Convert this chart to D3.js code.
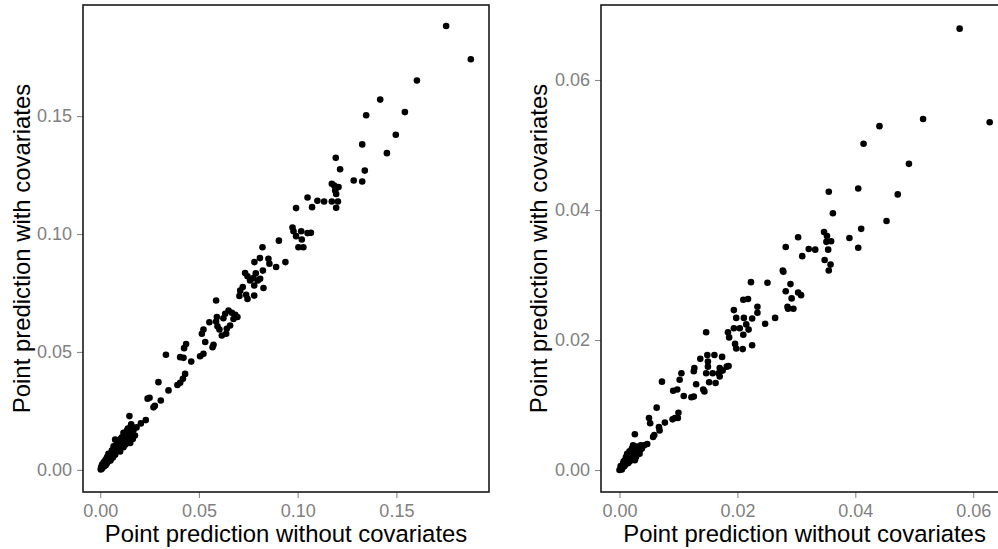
<!DOCTYPE html>
<html>
<head>
<meta charset="utf-8">
<script src="https://cdn.jsdelivr.net/npm/d3@7"></script>
<style>
  html, body { margin: 0; padding: 0; background: #fff; }
  svg { display: block; }
</style>
</head>
<body>
<div id="chart"></div>
<script>
// puntos panel izquierdo [sin covariables, con covariables]
const leftPoints = [
  [0.1752,0.1882],[0.1877,0.1741],[0.1604,0.1651],[0.1418,0.1570],[0.1347,0.1504],[0.1543,0.1517],
  [0.1497,0.1421],[0.1327,0.1380],[0.1452,0.1343],[0.1193,0.1323],[0.1215,0.1275],[0.1340,0.1269],
  [0.1284,0.1227],[0.1327,0.1223],[0.1173,0.1213],[0.1185,0.1206],[0.1207,0.1199],[0.1190,0.1185],
  [0.1195,0.1170],[0.1173,0.1138],[0.1204,0.1138],[0.1195,0.1111],[0.1050,0.1155],[0.1100,0.1141],
  [0.1134,0.1138],[0.1073,0.1114],[0.0992,0.1110],[0.0974,0.1028],[0.0979,0.1012],[0.0992,0.0991],
  [0.1018,0.1012],[0.1050,0.1004],[0.1067,0.1005],[0.1021,0.0977],[0.1004,0.0944],[0.1029,0.0944],
  [0.0905,0.0972],[0.0822,0.0944],[0.0938,0.0881],[0.0809,0.0898],[0.0781,0.0881],[0.0852,0.0895],
  [0.0857,0.0874],[0.0891,0.0860],
  [0.0824,0.0845],[0.0734,0.0835],[0.0746,0.0821],[0.0788,0.0834],[0.0759,0.0803],[0.0776,0.0813],
  [0.0798,0.0803],[0.0810,0.0810],[0.0722,0.0775],[0.0709,0.0760],[0.0780,0.0782],[0.0827,0.0771],
  [0.0739,0.0742],[0.0746,0.0725],[0.0705,0.0737],[0.0780,0.0739],[0.0587,0.0718],[0.0650,0.0676],
  [0.0667,0.0666],[0.0684,0.0657],[0.0695,0.0648],[0.0675,0.0640],[0.0633,0.0662],[0.0624,0.0643],
  [0.0591,0.0648],[0.0587,0.0629],[0.0594,0.0609],[0.0604,0.0595],[0.0616,0.0570],[0.0553,0.0626],
  [0.0658,0.0612],[0.0641,0.0598],[0.0638,0.0577],[0.0523,0.0595],[0.0515,0.0577],[0.0574,0.0530],
  [0.0569,0.0520],[0.0532,0.0542],[0.0435,0.0534],[0.0425,0.0516],[0.0523,0.0492],[0.0506,0.0482],
  [0.0405,0.0478],[0.0422,0.0475],[0.0333,0.0488],[0.0461,0.0459],
  [0.0430,0.0407],[0.0419,0.0386],[0.0405,0.0369],[0.0391,0.0360],[0.0295,0.0372],[0.0346,0.0337],
  [0.0250,0.0306],[0.0240,0.0302],[0.0307,0.0294],[0.0277,0.0272],[0.0270,0.0265],[0.0148,0.0228],
  [0.0231,0.0211],[0.0206,0.0197],[0.0157,0.0193],[0.0156,0.0186],[0.0184,0.0180],[0.0169,0.0169],
  [0.0135,0.0166],[0.0118,0.0157],[0.0148,0.0157],[0.0176,0.0146],[0.0110,0.0138],[0.0135,0.0134],
  [0.0165,0.0131],[0.0076,0.0128],[0.0101,0.0124],[0.0127,0.0117],[0.0152,0.0114],[0.0093,0.0106],
  [0.0068,0.0100],[0.0118,0.0096],[0.0085,0.0089],[0.0059,0.0082],[0.0101,0.0078],[0.0042,0.0068],
  [0.0076,0.0064],[0.0051,0.0054],
  [0.0003,0.0002],[0.0008,0.0005],[0.0005,0.0012],[0.0012,0.0010],[0.0015,0.0018],[0.0010,0.0022],
  [0.0020,0.0015],[0.0022,0.0026],[0.0028,0.0020],[0.0018,0.0032],[0.0030,0.0033],[0.0034,0.0028],
  [0.0026,0.0040],[0.0038,0.0042],[0.0042,0.0036],[0.0032,0.0048],[0.0046,0.0050],[0.0055,0.0047],
  [0.0062,0.0060],[0.0058,0.0070],[0.0068,0.0072],[0.0072,0.0066],[0.0065,0.0085],[0.0080,0.0078],
  [0.0088,0.0080],[0.0095,0.0092],[0.0107,0.0106],[0.0112,0.0118],[0.0121,0.0130],[0.0140,0.0147],
  [0.0143,0.0120],[0.0129,0.0144],
  [0.0048,0.0062],[0.0036,0.0055],[0.0052,0.0040],[0.0064,0.0052],[0.0078,0.0090],[0.0090,0.0115],
  [0.0084,0.0102],[0.0104,0.0132],[0.0113,0.0100],[0.0128,0.0108],[0.0160,0.0140],[0.0140,0.0175]
];

// puntos panel derecho
const rightPoints = [
  [0.0577,0.0679],[0.0515,0.0540],[0.0628,0.0535],[0.0441,0.0529],[0.0414,0.0502],[0.0491,0.0471],
  [0.0355,0.0428],[0.0405,0.0433],[0.0472,0.0424],[0.0362,0.0395],[0.0453,0.0383],[0.0410,0.0371],
  [0.0347,0.0366],[0.0352,0.0360],[0.0351,0.0351],[0.0359,0.0352],[0.0390,0.0357],[0.0303,0.0358],
  [0.0282,0.0343],[0.0321,0.0340],[0.0332,0.0339],[0.0354,0.0339],[0.0405,0.0342],[0.0310,0.0329],
  [0.0348,0.0323],[0.0358,0.0316],[0.0355,0.0307],[0.0277,0.0307],[0.0278,0.0305],[0.0223,0.0289],
  [0.0251,0.0288],[0.0290,0.0286],[0.0282,0.0275],[0.0303,0.0273],[0.0308,0.0269],[0.0292,0.0264],
  [0.0285,0.0251],[0.0286,0.0248],[0.0295,0.0248],[0.0210,0.0262],[0.0218,0.0263],[0.0234,0.0251],
  [0.0234,0.0242],[0.0194,0.0246],[0.0198,0.0234],[0.0211,0.0234],[0.0225,0.0233],[0.0264,0.0234],
  [0.0247,0.0225],[0.0215,0.0224],[0.0219,0.0216],[0.0184,0.0212],[0.0186,0.0204],[0.0147,0.0212],
  [0.0194,0.0218],[0.0204,0.0218],[0.0210,0.0208],[0.0196,0.0194],[0.0198,0.0187],[0.0209,0.0186],
  [0.0225,0.0192],[0.0137,0.0171],[0.0149,0.0177],[0.0161,0.0177],[0.0174,0.0174],[0.0150,0.0167],
  [0.0150,0.0159],[0.0182,0.0159],[0.0185,0.0160],[0.0170,0.0157],[0.0127,0.0157],[0.0126,0.0152],
  [0.0147,0.0149],[0.0158,0.0149],[0.0168,0.0149],[0.0175,0.0153],[0.0170,0.0144],[0.0152,0.0135],
  [0.0163,0.0134],[0.0130,0.0132],[0.0105,0.0149],[0.0102,0.0139],[0.0072,0.0136],[0.0091,0.0122],
  [0.0098,0.0124],[0.0142,0.0124],[0.0144,0.0121],[0.0109,0.0114],[0.0122,0.0112],[0.0126,0.0113],
  [0.0063,0.0096],[0.0100,0.0088],[0.0094,0.0080],[0.0099,0.0080],[0.0090,0.0078],[0.0077,0.0073],
  [0.0050,0.0080],[0.0052,0.0072],[0.0067,0.0066],[0.0068,0.0061],[0.0059,0.0054],[0.0057,0.0051],
  [0.0026,0.0055],[0.0047,0.0040],[0.0042,0.0038],
  [0.0000,0.0000],[0.0003,0.0002],[0.0005,0.0004],[0.0002,0.0006],[0.0008,0.0006],[0.0006,0.0010],
  [0.0010,0.0008],[0.0012,0.0012],[0.0009,0.0015],[0.0015,0.0011],[0.0014,0.0016],[0.0018,0.0014],
  [0.0011,0.0020],[0.0016,0.0021],[0.0020,0.0018],[0.0022,0.0022],[0.0019,0.0026],[0.0024,0.0019],
  [0.0025,0.0026],[0.0027,0.0030],[0.0030,0.0024],[0.0028,0.0020],[0.0017,0.0029],[0.0032,0.0029],
  [0.0035,0.0031],[0.0034,0.0025],[0.0021,0.0033],[0.0029,0.0036],[0.0038,0.0033],[0.0023,0.0038],
  [0.0013,0.0025],[0.0026,0.0015],[0.0007,0.0013],[0.0004,0.0001],[0.0036,0.0038]
];

const leftTicksX = [0, 0.05, 0.10, 0.15];
const leftTicksY = [0, 0.05, 0.10, 0.15];
const rightTicksX = [0, 0.02, 0.04, 0.06];
const rightTicksY = [0, 0.02, 0.04, 0.06];

const tituloX = "Point prediction without covariates";
const tituloY = "Point prediction with covariates";

const width = 998;
const height = 549;
const panelTop = 5;
const panelBottom = 492;

const svg = d3.select("#chart").append("svg")
  .attr("width", width)
  .attr("height", height)
  .style("font-family", "'Liberation Sans', Arial, sans-serif");

function dibujarPanel(puntos, domX, domY, rangoX, ticksX, ticksY, tituloYx) {
  const x = d3.scaleLinear().domain(domX).range(rangoX);
  const y = d3.scaleLinear().domain(domY).range([panelBottom, panelTop]);

  const g = svg.append("g");

  g.append("g")
    .attr("transform", `translate(0,${panelBottom})`)
    .call(d3.axisBottom(x).tickValues(ticksX).tickFormat(d3.format(".2f")).tickSize(6).tickPadding(6))
    .call(a => a.select(".domain").remove())
    .call(a => a.selectAll(".tick line").attr("stroke", "#8a8a8a").attr("stroke-width", 1.1))
    .call(a => a.selectAll(".tick text").attr("fill", "#808080").attr("font-size", 18)
      .attr("font-family", "'Liberation Sans', Arial, sans-serif"));

  g.append("g")
    .attr("transform", `translate(${rangoX[0]},0)`)
    .call(d3.axisLeft(y).tickValues(ticksY).tickFormat(d3.format(".2f")).tickSize(6).tickPadding(5))
    .call(a => a.select(".domain").remove())
    .call(a => a.selectAll(".tick line").attr("stroke", "#8a8a8a").attr("stroke-width", 1.1))
    .call(a => a.selectAll(".tick text").attr("fill", "#808080").attr("font-size", 18)
      .attr("font-family", "'Liberation Sans', Arial, sans-serif"));

  g.append("g").selectAll("circle")
    .data(puntos)
    .join("circle")
    .attr("cx", d => x(d[0]))
    .attr("cy", d => y(d[1]))
    .attr("r", 3.3)
    .attr("fill", "#000");

  g.append("rect")
    .attr("x", rangoX[0])
    .attr("y", panelTop)
    .attr("width", rangoX[1] - rangoX[0])
    .attr("height", panelBottom - panelTop)
    .attr("fill", "none")
    .attr("stroke", "#1a1a1a")
    .attr("stroke-width", 1.6);

  g.append("text")
    .attr("x", (rangoX[0] + rangoX[1]) / 2)
    .attr("y", 542)
    .attr("text-anchor", "middle")
    .attr("font-size", 23.9)
    .attr("fill", "#000")
    .text(tituloX);

  g.append("text")
    .attr("transform", `translate(${tituloYx},${(panelTop + panelBottom) / 2}) rotate(-90)`)
    .attr("text-anchor", "middle")
    .attr("font-size", 23.9)
    .attr("fill", "#000")
    .text(tituloY);
}

dibujarPanel(leftPoints, [-0.0087, 0.1969], [-0.00939, 0.19712], [83, 489], leftTicksX, leftTicksY, 30);
dibujarPanel(rightPoints, [-0.00314, 0.06594], [-0.00338, 0.07154], [601, 1008.2], rightTicksX, rightTicksY, 547);
</script>
</body>
</html>
